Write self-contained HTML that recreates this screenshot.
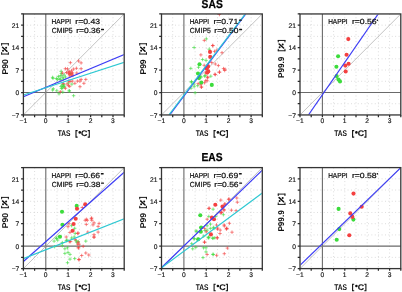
<!DOCTYPE html><html><head><meta charset="utf-8"><style>html,body{margin:0;padding:0;background:#fff;}svg{display:block;will-change:transform;}</style></head><body>
<svg xmlns="http://www.w3.org/2000/svg" width="402" height="292" viewBox="0 0 402 292" text-rendering="geometricPrecision" font-family='"Liberation Sans", sans-serif'>
<rect width="402" height="292" fill="#fff"/>
<clipPath id="cp00"><rect x="23.4" y="13.95" width="100.8" height="101"/></clipPath>
<clipPath id="cp00i"><rect x="23.9" y="14.45" width="99.8" height="100"/></clipPath>
<path d="M34.6 13.95V114.95M57 13.95V114.95M68.2 13.95V114.95M79.4 13.95V114.95M90.6 13.95V114.95M101.8 13.95V114.95M113 13.95V114.95M23.4 103.73H124.2M23.4 81.28H124.2M23.4 70.06H124.2M23.4 58.84H124.2M23.4 47.62H124.2M23.4 36.39H124.2M23.4 25.17H124.2" stroke="#c8c8c8" stroke-width="0.7" stroke-dasharray="0.9 2.5" fill="none"/>
<path d="M45.8 13.95V114.95M23.4 92.51H124.2" stroke="#6a6a6a" stroke-width="1.1" fill="none"/>
<path d="M23.4 114.95L124.2 13.95" stroke="#9a9a9a" stroke-width="0.6" fill="none"/>
<g clip-path="url(#cp00)">
<path d="M59.35 71.3h3.5M61.1 69.55v3.5M50.85 77.4h3.5M52.6 75.65v3.5M54.65 78.5h3.5M56.4 76.75v3.5M58.95 75.5h3.5M60.7 73.75v3.5M61.05 77.3h3.5M62.8 75.55v3.5M58.05 79h3.5M59.8 77.25v3.5M62.35 75.1h3.5M64.1 73.35v3.5M51.25 78.4h3.5M53 76.65v3.5M55.55 79.3h3.5M57.3 77.55v3.5M58.95 79.7h3.5M60.7 77.95v3.5M60.25 85.3h3.5M62 83.55v3.5M61.75 86.5h3.5M63.5 84.75v3.5M60.75 87.8h3.5M62.5 86.05v3.5M62.25 85h3.5M64 83.25v3.5M59.25 86.5h3.5M61 84.75v3.5M61.25 84.5h3.5M63 82.75v3.5M62.75 87h3.5M64.5 85.25v3.5M59.75 88.5h3.5M61.5 86.75v3.5M56.75 76.5h3.5M58.5 74.75v3.5M59.75 73.5h3.5M61.5 71.75v3.5M61.75 79h3.5M63.5 77.25v3.5M63.75 77h3.5M65.5 75.25v3.5M50.85 90h3.5M52.6 88.25v3.5M55.05 90.8h3.5M56.8 89.05v3.5M61.05 92.1h3.5M62.8 90.35v3.5M57.25 93.8h3.5M59 92.05v3.5M67.55 90.8h3.5M69.3 89.05v3.5M66.65 83.1h3.5M68.4 81.35v3.5M70.15 84.1h3.5M71.9 82.35v3.5M67.55 91h3.5M69.3 89.25v3.5M71.85 95.7h3.5M73.6 93.95v3.5M68.75 73.5h3.5M70.5 71.75v3.5M51.55 88.8h3.5M53.3 87.05v3.5" stroke="#3cdc3c" stroke-width="0.62" fill="none"/>
<path d="M68.65 62.7h3.5M70.4 60.95v3.5M76.85 61h3.5M78.6 59.25v3.5M79.35 62.9h3.5M81.1 61.15v3.5M63.65 68.7h3.5M65.4 66.95v3.5M65.75 68.9h3.5M67.5 67.15v3.5M71.65 69.1h3.5M73.4 67.35v3.5M74.65 68.3h3.5M76.4 66.55v3.5M79.35 68.7h3.5M81.1 66.95v3.5M67.05 71.7h3.5M68.8 69.95v3.5M69.15 73h3.5M70.9 71.25v3.5M67.75 74.5h3.5M69.5 72.75v3.5M69.95 75.1h3.5M71.7 73.35v3.5M70.75 72.8h3.5M72.5 71.05v3.5M75.05 73h3.5M76.8 71.25v3.5M60.65 73h3.5M62.4 71.25v3.5M67.75 72h3.5M69.5 70.25v3.5M69.75 70.8h3.5M71.5 69.05v3.5M68.25 76h3.5M70 74.25v3.5M70.25 74h3.5M72 72.25v3.5M66.75 73.5h3.5M68.5 71.75v3.5M71.25 75.5h3.5M73 73.75v3.5M64.75 72.5h3.5M66.5 70.75v3.5M79.35 79.4h3.5M81.1 77.65v3.5M84.05 79.4h3.5M85.8 77.65v3.5M67.15 81.1h3.5M68.9 79.35v3.5M70.55 81.1h3.5M72.3 79.35v3.5M75.65 81.1h3.5M77.4 79.35v3.5M78.25 81.1h3.5M80 79.35v3.5M73.15 83.3h3.5M74.9 81.55v3.5M82.15 83.3h3.5M83.9 81.55v3.5M67.95 86.3h3.5M69.7 84.55v3.5M78.25 86.7h3.5M80 84.95v3.5M68.35 81.4h3.5M70.1 79.65v3.5M65.35 84h3.5M67.1 82.25v3.5M63.65 88.3h3.5M65.4 86.55v3.5M58.55 91.7h3.5M60.3 89.95v3.5M61.55 83.6h3.5M63.3 81.85v3.5M66.65 85.7h3.5M68.4 83.95v3.5" stroke="#f44040" stroke-width="0.62" fill="none"/>
</g>
<path d="M23.4 96.7L124.2 54.6" stroke="#3c3cf5" stroke-width="1.2" fill="none" clip-path="url(#cp00i)"/>
<path d="M23.4 95L124.2 62.4" stroke="#2ec8d2" stroke-width="1.2" fill="none" clip-path="url(#cp00i)"/>
<rect x="23.4" y="13.95" width="100.8" height="101" fill="none" stroke="#353535" stroke-width="1.3"/>
<path d="M23.4 114.95v2.2M34.6 114.95v2.2M45.8 114.95v2.2M57 114.95v2.2M68.2 114.95v2.2M79.4 114.95v2.2M90.6 114.95v2.2M101.8 114.95v2.2M113 114.95v2.2M124.2 114.95v2.2M23.4 114.95h-2.3M23.4 103.73h-2.3M23.4 92.51h-2.3M23.4 81.28h-2.3M23.4 70.06h-2.3M23.4 58.84h-2.3M23.4 47.62h-2.3M23.4 36.39h-2.3M23.4 25.17h-2.3M23.4 13.95h-2.3" stroke="#2a2a2a" stroke-width="1.25" fill="none"/>
<text x="23.3" y="122.85" font-size="6.7" text-anchor="middle" fill="#111" stroke="#111" stroke-width="0.15">−1</text>
<text x="45.7" y="122.85" font-size="6.7" text-anchor="middle" fill="#111" stroke="#111" stroke-width="0.15">0</text>
<text x="68.1" y="122.85" font-size="6.7" text-anchor="middle" fill="#111" stroke="#111" stroke-width="0.15">1</text>
<text x="90.5" y="122.85" font-size="6.7" text-anchor="middle" fill="#111" stroke="#111" stroke-width="0.15">2</text>
<text x="112.9" y="122.85" font-size="6.7" text-anchor="middle" fill="#111" stroke="#111" stroke-width="0.15">3</text>
<text x="19.3" y="117.65" font-size="6.7" text-anchor="end" fill="#111" stroke="#111" stroke-width="0.15">−7</text>
<text x="19.3" y="95.21" font-size="6.7" text-anchor="end" fill="#111" stroke="#111" stroke-width="0.15">0</text>
<text x="19.3" y="72.76" font-size="6.7" text-anchor="end" fill="#111" stroke="#111" stroke-width="0.15">7</text>
<text x="19.3" y="50.32" font-size="6.7" text-anchor="end" fill="#111" stroke="#111" stroke-width="0.15">14</text>
<text x="19.3" y="27.87" font-size="6.7" text-anchor="end" fill="#111" stroke="#111" stroke-width="0.15">21</text>
<text x="57.63" y="136.35" font-size="8.21" font-weight="bold" textLength="12.82" lengthAdjust="spacingAndGlyphs" fill="#111">TAS</text>
<path d="M77.60 130.60H76.00V137.10H77.60M87.70 130.60H89.30V137.10H87.70" stroke="#111" stroke-width="1.1" fill="none"/>
<circle cx="79.80" cy="132.40" r="1.3" fill="#111"/>
<text x="81.14" y="136.40" font-size="8.2" font-weight="bold" textLength="6.39" lengthAdjust="spacingAndGlyphs" fill="#111" stroke="#111" stroke-width="0.15">C</text>
<text transform="translate(7.70 74.00) rotate(-90)" x="-0.57" y="0" font-size="8.43" font-weight="bold" textLength="15.22" lengthAdjust="spacingAndGlyphs" fill="#111">P90</text>
<path d="M1.20 43.75H8.80M1.65 43.30V45.65M8.35 43.30V45.65M1.20 54.05H8.80M1.65 54.50V52.15M8.35 54.50V52.15" stroke="#111" stroke-width="0.95" fill="none"/>
<path d="M2.50 47.25L7.00 51.35" stroke="#111" stroke-width="1.45" stroke-linecap="round" fill="none"/>
<circle cx="6.10" cy="47.75" r="1.0" fill="#111"/><circle cx="3.00" cy="50.65" r="1.0" fill="#111"/>
<text x="51.57" y="24.20" font-size="7.27" textLength="19.53" lengthAdjust="spacingAndGlyphs" fill="#111" stroke="#111" stroke-width="0.22">HAPPI</text>
<text x="75.33" y="24.30" font-size="7.45" textLength="24.75" lengthAdjust="spacingAndGlyphs" fill="#111" stroke="#111" stroke-width="0.22">r=0.43</text>
<text x="51.75" y="33.10" font-size="7.41" textLength="20.94" lengthAdjust="spacingAndGlyphs" fill="#111" stroke="#111" stroke-width="0.22">CMIP5</text>
<text x="76.24" y="33.10" font-size="7.45" textLength="24.23" lengthAdjust="spacingAndGlyphs" fill="#111" stroke="#111" stroke-width="0.22">r=0.36</text>
<rect x="101" y="28.85" width="3.0" height="1.3" rx="0.5" fill="#111"/>
<clipPath id="cp10"><rect x="161.5" y="13.95" width="100.8" height="101"/></clipPath>
<clipPath id="cp10i"><rect x="162" y="14.45" width="99.8" height="100"/></clipPath>
<path d="M172.7 13.95V114.95M195.1 13.95V114.95M206.3 13.95V114.95M217.5 13.95V114.95M228.7 13.95V114.95M239.9 13.95V114.95M251.1 13.95V114.95M161.5 103.73H262.3M161.5 81.28H262.3M161.5 70.06H262.3M161.5 58.84H262.3M161.5 47.62H262.3M161.5 36.39H262.3M161.5 25.17H262.3" stroke="#c8c8c8" stroke-width="0.7" stroke-dasharray="0.9 2.5" fill="none"/>
<path d="M183.9 13.95V114.95M161.5 92.51H262.3" stroke="#6a6a6a" stroke-width="1.1" fill="none"/>
<path d="M161.5 114.95L262.3 13.95" stroke="#9a9a9a" stroke-width="0.6" fill="none"/>
<g clip-path="url(#cp10)">
<path d="M204.55 38.9h3.5M206.3 37.15v3.5M192.35 47.5h3.5M194.1 45.75v3.5M207.45 49.2h3.5M209.2 47.45v3.5M200.85 59.5h3.5M202.6 57.75v3.5M204.25 60.4h3.5M206 58.65v3.5M189.05 68.4h3.5M190.8 66.65v3.5M196.75 67.3h3.5M198.5 65.55v3.5M198.85 76.6h3.5M200.6 74.85v3.5M202.95 76.1h3.5M204.7 74.35v3.5M189.55 82.2h3.5M191.3 80.45v3.5M209.05 76.2h3.5M210.8 74.45v3.5M203.35 75.7h3.5M205.1 73.95v3.5M189.75 81.5h3.5M191.5 79.75v3.5M192.35 84.1h3.5M194.1 82.35v3.5M192.35 86.7h3.5M194.1 84.95v3.5M195.95 85.7h3.5M197.7 83.95v3.5M189.25 88.2h3.5M191 86.45v3.5M193.35 92.8h3.5M195.1 91.05v3.5M199.25 77.2h3.5M201 75.45v3.5" stroke="#3cdc3c" stroke-width="0.62" fill="none"/>
<path d="M202.55 40.4h3.5M204.3 38.65v3.5M211.15 45.6h3.5M212.9 43.85v3.5M212.75 51.4h3.5M214.5 49.65v3.5M199.15 54.9h3.5M200.9 53.15v3.5M220.25 52.7h3.5M222 50.95v3.5M209.95 62.5h3.5M211.7 60.75v3.5M213.55 64h3.5M215.3 62.25v3.5M216.65 65.6h3.5M218.4 63.85v3.5M221.75 68.6h3.5M223.5 66.85v3.5M223.25 69.2h3.5M225 67.45v3.5M217.65 72.2h3.5M219.4 70.45v3.5M213.05 74.3h3.5M214.8 72.55v3.5M202.45 65.3h3.5M204.2 63.55v3.5M205.95 64.8h3.5M207.7 63.05v3.5M203.95 73h3.5M205.7 71.25v3.5M203.95 80.7h3.5M205.7 78.95v3.5M205.95 77.1h3.5M207.7 75.35v3.5M217.75 72.1h3.5M219.5 70.35v3.5M213.65 74.6h3.5M215.4 72.85v3.5M222.95 70.5h3.5M224.7 68.75v3.5M205.95 77.7h3.5M207.7 75.95v3.5M205.45 80.8h3.5M207.2 79.05v3.5M202.85 82.8h3.5M204.6 81.05v3.5M199.75 87h3.5M201.5 85.25v3.5M196.45 83.6h3.5M198.2 81.85v3.5M199.05 84.6h3.5M200.8 82.85v3.5M199.55 87.2h3.5M201.3 85.45v3.5M217.65 14.5h3.5M219.4 12.75v3.5M215.05 50.2h3.5M216.8 48.45v3.5M210.95 45.5h3.5M212.7 43.75v3.5" stroke="#f44040" stroke-width="0.62" fill="none"/>
<circle cx="199.5" cy="64.2" r="2.05" fill="#3cdc3c"/>
<circle cx="198" cy="73.5" r="2.05" fill="#3cdc3c"/>
<circle cx="199" cy="78.1" r="2.05" fill="#3cdc3c"/>
<circle cx="201.3" cy="82.5" r="2.05" fill="#3cdc3c"/>
<circle cx="211.8" cy="84.9" r="2.05" fill="#3cdc3c"/>
<circle cx="210" cy="51.9" r="2.05" fill="#f44040"/>
<circle cx="210.2" cy="56.9" r="2.05" fill="#f44040"/>
<circle cx="208.1" cy="66.6" r="2.05" fill="#f44040"/>
<circle cx="206.7" cy="68.4" r="2.05" fill="#f44040"/>
<circle cx="208.3" cy="71.4" r="2.05" fill="#f44040"/>
<circle cx="207.2" cy="72.6" r="2.05" fill="#f44040"/>
</g>
<path d="M169.6 115L245.8 14" stroke="#3c3cf5" stroke-width="1.2" fill="none" clip-path="url(#cp10i)"/>
<path d="M168.8 115L245.2 14" stroke="#2ec8d2" stroke-width="1.2" fill="none" clip-path="url(#cp10i)"/>
<rect x="161.5" y="13.95" width="100.8" height="101" fill="none" stroke="#353535" stroke-width="1.3"/>
<path d="M161.5 114.95v2.2M172.7 114.95v2.2M183.9 114.95v2.2M195.1 114.95v2.2M206.3 114.95v2.2M217.5 114.95v2.2M228.7 114.95v2.2M239.9 114.95v2.2M251.1 114.95v2.2M262.3 114.95v2.2M161.5 114.95h-2.3M161.5 103.73h-2.3M161.5 92.51h-2.3M161.5 81.28h-2.3M161.5 70.06h-2.3M161.5 58.84h-2.3M161.5 47.62h-2.3M161.5 36.39h-2.3M161.5 25.17h-2.3M161.5 13.95h-2.3" stroke="#2a2a2a" stroke-width="1.25" fill="none"/>
<text x="161.4" y="122.85" font-size="6.7" text-anchor="middle" fill="#111" stroke="#111" stroke-width="0.15">−1</text>
<text x="183.8" y="122.85" font-size="6.7" text-anchor="middle" fill="#111" stroke="#111" stroke-width="0.15">0</text>
<text x="206.2" y="122.85" font-size="6.7" text-anchor="middle" fill="#111" stroke="#111" stroke-width="0.15">1</text>
<text x="228.6" y="122.85" font-size="6.7" text-anchor="middle" fill="#111" stroke="#111" stroke-width="0.15">2</text>
<text x="251" y="122.85" font-size="6.7" text-anchor="middle" fill="#111" stroke="#111" stroke-width="0.15">3</text>
<text x="157.4" y="117.65" font-size="6.7" text-anchor="end" fill="#111" stroke="#111" stroke-width="0.15">−7</text>
<text x="157.4" y="95.21" font-size="6.7" text-anchor="end" fill="#111" stroke="#111" stroke-width="0.15">0</text>
<text x="157.4" y="72.76" font-size="6.7" text-anchor="end" fill="#111" stroke="#111" stroke-width="0.15">7</text>
<text x="157.4" y="50.32" font-size="6.7" text-anchor="end" fill="#111" stroke="#111" stroke-width="0.15">14</text>
<text x="157.4" y="27.87" font-size="6.7" text-anchor="end" fill="#111" stroke="#111" stroke-width="0.15">21</text>
<text x="195.73" y="136.35" font-size="8.21" font-weight="bold" textLength="12.82" lengthAdjust="spacingAndGlyphs" fill="#111">TAS</text>
<path d="M215.70 130.60H214.10V137.10H215.70M225.80 130.60H227.40V137.10H225.80" stroke="#111" stroke-width="1.1" fill="none"/>
<circle cx="217.90" cy="132.40" r="1.3" fill="#111"/>
<text x="219.24" y="136.40" font-size="8.2" font-weight="bold" textLength="6.39" lengthAdjust="spacingAndGlyphs" fill="#111" stroke="#111" stroke-width="0.15">C</text>
<text transform="translate(145.80 74.00) rotate(-90)" x="-0.57" y="0" font-size="8.43" font-weight="bold" textLength="15.19" lengthAdjust="spacingAndGlyphs" fill="#111">P99</text>
<path d="M139.30 43.75H146.90M139.75 43.30V45.65M146.45 43.30V45.65M139.30 54.05H146.90M139.75 54.50V52.15M146.45 54.50V52.15" stroke="#111" stroke-width="0.95" fill="none"/>
<path d="M140.60 47.25L145.10 51.35" stroke="#111" stroke-width="1.45" stroke-linecap="round" fill="none"/>
<circle cx="144.20" cy="47.75" r="1.0" fill="#111"/><circle cx="141.10" cy="50.65" r="1.0" fill="#111"/>
<text x="189.67" y="24.20" font-size="7.27" textLength="19.53" lengthAdjust="spacingAndGlyphs" fill="#111" stroke="#111" stroke-width="0.22">HAPPI</text>
<text x="213.42" y="24.30" font-size="7.45" textLength="24.80" lengthAdjust="spacingAndGlyphs" fill="#111" stroke="#111" stroke-width="0.22">r=0.71</text>
<rect x="238.9" y="19.45" width="2.9" height="1.3" rx="0.5" fill="#111"/>
<text x="189.85" y="33.10" font-size="7.41" textLength="20.94" lengthAdjust="spacingAndGlyphs" fill="#111" stroke="#111" stroke-width="0.22">CMIP5</text>
<text x="214.34" y="33.10" font-size="7.45" textLength="24.19" lengthAdjust="spacingAndGlyphs" fill="#111" stroke="#111" stroke-width="0.22">r=0.50</text>
<rect x="239.1" y="28.85" width="3.0" height="1.3" rx="0.5" fill="#111"/>
<clipPath id="cp20"><rect x="300" y="13.95" width="100.8" height="101"/></clipPath>
<clipPath id="cp20i"><rect x="300.5" y="14.45" width="99.8" height="100"/></clipPath>
<path d="M311.2 13.95V114.95M333.6 13.95V114.95M344.8 13.95V114.95M356 13.95V114.95M367.2 13.95V114.95M378.4 13.95V114.95M389.6 13.95V114.95M300 103.73H400.8M300 81.28H400.8M300 70.06H400.8M300 58.84H400.8M300 47.62H400.8M300 36.39H400.8M300 25.17H400.8" stroke="#c8c8c8" stroke-width="0.7" stroke-dasharray="0.9 2.5" fill="none"/>
<path d="M322.4 13.95V114.95M300 92.51H400.8" stroke="#6a6a6a" stroke-width="1.1" fill="none"/>
<path d="M300 114.95L400.8 13.95" stroke="#9a9a9a" stroke-width="0.6" fill="none"/>
<g clip-path="url(#cp20)">
<circle cx="338.1" cy="56.2" r="2.05" fill="#3cdc3c"/>
<circle cx="336.4" cy="66.7" r="2.05" fill="#3cdc3c"/>
<circle cx="336.6" cy="76.1" r="2.05" fill="#3cdc3c"/>
<circle cx="338.5" cy="79.5" r="2.05" fill="#3cdc3c"/>
<circle cx="340" cy="81.4" r="2.05" fill="#3cdc3c"/>
<circle cx="348.3" cy="39.1" r="2.05" fill="#f44040"/>
<circle cx="346.6" cy="54.7" r="2.05" fill="#f44040"/>
<circle cx="348.6" cy="63.7" r="2.05" fill="#f44040"/>
<circle cx="345.3" cy="65.6" r="2.05" fill="#f44040"/>
<circle cx="345.7" cy="71.5" r="2.05" fill="#f44040"/>
</g>
<path d="M308.4 115L378.2 14" stroke="#3c3cf5" stroke-width="1.2" fill="none" clip-path="url(#cp20i)"/>
<rect x="300" y="13.95" width="100.8" height="101" fill="none" stroke="#353535" stroke-width="1.3"/>
<path d="M300 114.95v2.2M311.2 114.95v2.2M322.4 114.95v2.2M333.6 114.95v2.2M344.8 114.95v2.2M356 114.95v2.2M367.2 114.95v2.2M378.4 114.95v2.2M389.6 114.95v2.2M400.8 114.95v2.2M300 114.95h-2.3M300 103.73h-2.3M300 92.51h-2.3M300 81.28h-2.3M300 70.06h-2.3M300 58.84h-2.3M300 47.62h-2.3M300 36.39h-2.3M300 25.17h-2.3M300 13.95h-2.3" stroke="#2a2a2a" stroke-width="1.25" fill="none"/>
<text x="299.9" y="122.85" font-size="6.7" text-anchor="middle" fill="#111" stroke="#111" stroke-width="0.15">−1</text>
<text x="322.3" y="122.85" font-size="6.7" text-anchor="middle" fill="#111" stroke="#111" stroke-width="0.15">0</text>
<text x="344.7" y="122.85" font-size="6.7" text-anchor="middle" fill="#111" stroke="#111" stroke-width="0.15">1</text>
<text x="367.1" y="122.85" font-size="6.7" text-anchor="middle" fill="#111" stroke="#111" stroke-width="0.15">2</text>
<text x="389.5" y="122.85" font-size="6.7" text-anchor="middle" fill="#111" stroke="#111" stroke-width="0.15">3</text>
<text x="295.9" y="117.65" font-size="6.7" text-anchor="end" fill="#111" stroke="#111" stroke-width="0.15">−7</text>
<text x="295.9" y="95.21" font-size="6.7" text-anchor="end" fill="#111" stroke="#111" stroke-width="0.15">0</text>
<text x="295.9" y="72.76" font-size="6.7" text-anchor="end" fill="#111" stroke="#111" stroke-width="0.15">7</text>
<text x="295.9" y="50.32" font-size="6.7" text-anchor="end" fill="#111" stroke="#111" stroke-width="0.15">14</text>
<text x="295.9" y="27.87" font-size="6.7" text-anchor="end" fill="#111" stroke="#111" stroke-width="0.15">21</text>
<text x="334.23" y="136.35" font-size="8.21" font-weight="bold" textLength="12.82" lengthAdjust="spacingAndGlyphs" fill="#111">TAS</text>
<path d="M354.20 130.60H352.60V137.10H354.20M364.30 130.60H365.90V137.10H364.30" stroke="#111" stroke-width="1.1" fill="none"/>
<circle cx="356.40" cy="132.40" r="1.3" fill="#111"/>
<text x="357.74" y="136.40" font-size="8.2" font-weight="bold" textLength="6.39" lengthAdjust="spacingAndGlyphs" fill="#111" stroke="#111" stroke-width="0.15">C</text>
<text transform="translate(284.30 77.40) rotate(-90)" x="-0.54" y="0" font-size="8.43" font-weight="bold" textLength="21.25" lengthAdjust="spacingAndGlyphs" fill="#111">P99.9</text>
<path d="M277.80 40.45H285.40M278.25 40.00V42.35M284.95 40.00V42.35M277.80 50.75H285.40M278.25 51.20V48.85M284.95 51.20V48.85" stroke="#111" stroke-width="0.95" fill="none"/>
<path d="M279.10 43.95L283.60 48.05" stroke="#111" stroke-width="1.45" stroke-linecap="round" fill="none"/>
<circle cx="282.70" cy="44.45" r="1.0" fill="#111"/><circle cx="279.60" cy="47.35" r="1.0" fill="#111"/>
<text x="328.17" y="24.20" font-size="7.27" textLength="19.53" lengthAdjust="spacingAndGlyphs" fill="#111" stroke="#111" stroke-width="0.22">HAPPI</text>
<text x="351.93" y="24.30" font-size="7.45" textLength="24.75" lengthAdjust="spacingAndGlyphs" fill="#111" stroke="#111" stroke-width="0.22">r=0.56</text>
<circle cx="377.4" cy="20.2" r="0.8" fill="#111"/>
<clipPath id="cp01"><rect x="23.4" y="167.6" width="100.8" height="101"/></clipPath>
<clipPath id="cp01i"><rect x="23.9" y="168.1" width="99.8" height="100"/></clipPath>
<path d="M34.6 167.6V268.6M57 167.6V268.6M68.2 167.6V268.6M79.4 167.6V268.6M90.6 167.6V268.6M101.8 167.6V268.6M113 167.6V268.6M23.4 257.38H124.2M23.4 234.93H124.2M23.4 223.71H124.2M23.4 212.49H124.2M23.4 201.27H124.2M23.4 190.04H124.2M23.4 178.82H124.2" stroke="#c8c8c8" stroke-width="0.7" stroke-dasharray="0.9 2.5" fill="none"/>
<path d="M45.8 167.6V268.6M23.4 246.16H124.2" stroke="#6a6a6a" stroke-width="1.1" fill="none"/>
<path d="M23.4 268.6L124.2 167.6" stroke="#9a9a9a" stroke-width="0.6" fill="none"/>
<g clip-path="url(#cp01)">
<path d="M69.85 225.7h3.5M71.6 223.95v3.5M72.95 228.3h3.5M74.7 226.55v3.5M73.45 233.4h3.5M75.2 231.65v3.5M54.45 238h3.5M56.2 236.25v3.5M52.35 241.1h3.5M54.1 239.35v3.5M55.95 240.1h3.5M57.7 238.35v3.5M64.65 240.6h3.5M66.4 238.85v3.5M69.85 238h3.5M71.6 236.25v3.5M72.45 237h3.5M74.2 235.25v3.5M60.55 245.7h3.5M62.3 243.95v3.5M76.55 241.6h3.5M78.3 239.85v3.5M60.55 242.6h3.5M62.3 240.85v3.5M65.25 240.1h3.5M67 238.35v3.5M74.95 242.1h3.5M76.7 240.35v3.5M63.15 248.8h3.5M64.9 247.05v3.5M65.75 247.8h3.5M67.5 246.05v3.5M52.85 246.7h3.5M54.6 244.95v3.5M63.15 253.4h3.5M64.9 251.65v3.5M66.25 252.4h3.5M68 250.65v3.5M68.25 254.4h3.5M70 252.65v3.5M68.25 259.1h3.5M70 257.35v3.5M72.95 258.6h3.5M74.7 256.85v3.5M65.75 262.7h3.5M67.5 260.95v3.5M84.05 241.1h3.5M85.8 239.35v3.5M74.25 240.6h3.5M76 238.85v3.5M54.85 238.5h3.5M56.6 236.75v3.5M57.35 236.4h3.5M59.1 234.65v3.5" stroke="#3cdc3c" stroke-width="0.62" fill="none"/>
<path d="M80.55 207.5h3.5M82.3 205.75v3.5M89.85 218h3.5M91.6 216.25v3.5M84.65 219.3h3.5M86.4 217.55v3.5M67.25 223.8h3.5M69 222.05v3.5M66.25 226.7h3.5M68 224.95v3.5M68.25 232.4h3.5M70 230.65v3.5M75.95 233.4h3.5M77.7 231.65v3.5M64.45 237h3.5M66.2 235.25v3.5M67.75 241.6h3.5M69.5 239.85v3.5M73.45 239.6h3.5M75.2 237.85v3.5M75.95 244.2h3.5M77.7 242.45v3.5M83.45 220.3h3.5M85.2 218.55v3.5M85.55 220.3h3.5M87.3 218.55v3.5M89.65 218.7h3.5M91.4 216.95v3.5M90.15 220.3h3.5M91.9 218.55v3.5M92.25 222.8h3.5M94 221.05v3.5M84.55 224.4h3.5M86.3 222.65v3.5M91.25 224.9h3.5M93 223.15v3.5M97.35 223.4h3.5M99.1 221.65v3.5M96.35 226.4h3.5M98.1 224.65v3.5M86.05 232.1h3.5M87.8 230.35v3.5M96.35 232.1h3.5M98.1 230.35v3.5M92.25 234.7h3.5M94 232.95v3.5M92.25 237.2h3.5M94 235.45v3.5M76.35 233.1h3.5M78.1 231.35v3.5M68.85 241.6h3.5M70.6 239.85v3.5M76.55 247.8h3.5M78.3 246.05v3.5M77.05 259.6h3.5M78.8 257.85v3.5M76.35 242.2h3.5M78.1 240.45v3.5M77.35 244.2h3.5M79.1 242.45v3.5M81.45 246.3h3.5M83.2 244.55v3.5M76.85 247.8h3.5M78.6 246.05v3.5M84.05 253h3.5M85.8 251.25v3.5M79.95 255.5h3.5M81.7 253.75v3.5M87.05 255h3.5M88.8 253.25v3.5M77.35 259.6h3.5M79.1 257.85v3.5M92.25 237h3.5M94 235.25v3.5" stroke="#f44040" stroke-width="0.62" fill="none"/>
<circle cx="76.7" cy="205.9" r="2.05" fill="#3cdc3c"/>
<circle cx="62" cy="211.8" r="2.05" fill="#3cdc3c"/>
<circle cx="62.4" cy="224.8" r="2.05" fill="#3cdc3c"/>
<circle cx="60" cy="236.8" r="2.05" fill="#3cdc3c"/>
<circle cx="85.2" cy="204.4" r="2.05" fill="#f44040"/>
<circle cx="77" cy="208.7" r="2.05" fill="#f44040"/>
<circle cx="75.7" cy="218.7" r="2.05" fill="#f44040"/>
<circle cx="73.6" cy="224" r="2.05" fill="#f44040"/>
<circle cx="72.6" cy="230.8" r="2.05" fill="#f44040"/>
</g>
<path d="M23.4 261.5L124.2 172.2" stroke="#3c3cf5" stroke-width="1.2" fill="none" clip-path="url(#cp01i)"/>
<path d="M23.4 258.6L124.2 218.9" stroke="#2ec8d2" stroke-width="1.2" fill="none" clip-path="url(#cp01i)"/>
<rect x="23.4" y="167.6" width="100.8" height="101" fill="none" stroke="#353535" stroke-width="1.3"/>
<path d="M23.4 268.6v2.2M34.6 268.6v2.2M45.8 268.6v2.2M57 268.6v2.2M68.2 268.6v2.2M79.4 268.6v2.2M90.6 268.6v2.2M101.8 268.6v2.2M113 268.6v2.2M124.2 268.6v2.2M23.4 268.6h-2.3M23.4 257.38h-2.3M23.4 246.16h-2.3M23.4 234.93h-2.3M23.4 223.71h-2.3M23.4 212.49h-2.3M23.4 201.27h-2.3M23.4 190.04h-2.3M23.4 178.82h-2.3M23.4 167.6h-2.3" stroke="#2a2a2a" stroke-width="1.25" fill="none"/>
<text x="23.3" y="276.5" font-size="6.7" text-anchor="middle" fill="#111" stroke="#111" stroke-width="0.15">−1</text>
<text x="45.7" y="276.5" font-size="6.7" text-anchor="middle" fill="#111" stroke="#111" stroke-width="0.15">0</text>
<text x="68.1" y="276.5" font-size="6.7" text-anchor="middle" fill="#111" stroke="#111" stroke-width="0.15">1</text>
<text x="90.5" y="276.5" font-size="6.7" text-anchor="middle" fill="#111" stroke="#111" stroke-width="0.15">2</text>
<text x="112.9" y="276.5" font-size="6.7" text-anchor="middle" fill="#111" stroke="#111" stroke-width="0.15">3</text>
<text x="19.3" y="271.3" font-size="6.7" text-anchor="end" fill="#111" stroke="#111" stroke-width="0.15">−7</text>
<text x="19.3" y="248.86" font-size="6.7" text-anchor="end" fill="#111" stroke="#111" stroke-width="0.15">0</text>
<text x="19.3" y="226.41" font-size="6.7" text-anchor="end" fill="#111" stroke="#111" stroke-width="0.15">7</text>
<text x="19.3" y="203.97" font-size="6.7" text-anchor="end" fill="#111" stroke="#111" stroke-width="0.15">14</text>
<text x="19.3" y="181.52" font-size="6.7" text-anchor="end" fill="#111" stroke="#111" stroke-width="0.15">21</text>
<text x="57.63" y="290.00" font-size="8.21" font-weight="bold" textLength="12.82" lengthAdjust="spacingAndGlyphs" fill="#111">TAS</text>
<path d="M77.60 284.25H76.00V290.75H77.60M87.70 284.25H89.30V290.75H87.70" stroke="#111" stroke-width="1.1" fill="none"/>
<circle cx="79.80" cy="286.05" r="1.3" fill="#111"/>
<text x="81.14" y="290.05" font-size="8.2" font-weight="bold" textLength="6.39" lengthAdjust="spacingAndGlyphs" fill="#111" stroke="#111" stroke-width="0.15">C</text>
<text transform="translate(7.70 227.65) rotate(-90)" x="-0.57" y="0" font-size="8.43" font-weight="bold" textLength="15.22" lengthAdjust="spacingAndGlyphs" fill="#111">P90</text>
<path d="M1.20 197.40H8.80M1.65 196.95V199.30M8.35 196.95V199.30M1.20 207.70H8.80M1.65 208.15V205.80M8.35 208.15V205.80" stroke="#111" stroke-width="0.95" fill="none"/>
<path d="M2.50 200.90L7.00 205.00" stroke="#111" stroke-width="1.45" stroke-linecap="round" fill="none"/>
<circle cx="6.10" cy="201.40" r="1.0" fill="#111"/><circle cx="3.00" cy="204.30" r="1.0" fill="#111"/>
<text x="51.57" y="177.85" font-size="7.27" textLength="19.53" lengthAdjust="spacingAndGlyphs" fill="#111" stroke="#111" stroke-width="0.22">HAPPI</text>
<text x="75.33" y="177.95" font-size="7.45" textLength="24.75" lengthAdjust="spacingAndGlyphs" fill="#111" stroke="#111" stroke-width="0.22">r=0.66</text>
<rect x="100.8" y="173.1" width="2.9" height="1.3" rx="0.5" fill="#111"/>
<text x="51.75" y="186.75" font-size="7.41" textLength="20.94" lengthAdjust="spacingAndGlyphs" fill="#111" stroke="#111" stroke-width="0.22">CMIP5</text>
<text x="76.24" y="186.75" font-size="7.45" textLength="24.23" lengthAdjust="spacingAndGlyphs" fill="#111" stroke="#111" stroke-width="0.22">r=0.38</text>
<rect x="101" y="182.5" width="3.0" height="1.3" rx="0.5" fill="#111"/>
<clipPath id="cp11"><rect x="161.5" y="167.6" width="100.8" height="101"/></clipPath>
<clipPath id="cp11i"><rect x="162" y="168.1" width="99.8" height="100"/></clipPath>
<path d="M172.7 167.6V268.6M195.1 167.6V268.6M206.3 167.6V268.6M217.5 167.6V268.6M228.7 167.6V268.6M239.9 167.6V268.6M251.1 167.6V268.6M161.5 257.38H262.3M161.5 234.93H262.3M161.5 223.71H262.3M161.5 212.49H262.3M161.5 201.27H262.3M161.5 190.04H262.3M161.5 178.82H262.3" stroke="#c8c8c8" stroke-width="0.7" stroke-dasharray="0.9 2.5" fill="none"/>
<path d="M183.9 167.6V268.6M161.5 246.16H262.3" stroke="#6a6a6a" stroke-width="1.1" fill="none"/>
<path d="M161.5 268.6L262.3 167.6" stroke="#9a9a9a" stroke-width="0.6" fill="none"/>
<g clip-path="url(#cp11)">
<path d="M211.35 209.2h3.5M213.1 207.45v3.5M207.05 216.4h3.5M208.8 214.65v3.5M213.95 216.4h3.5M215.7 214.65v3.5M221.65 214.7h3.5M223.4 212.95v3.5M195.05 231.3h3.5M196.8 229.55v3.5M205.35 225.8h3.5M207.1 224.05v3.5M208.75 224.1h3.5M210.5 222.35v3.5M205.35 230.1h3.5M207.1 228.35v3.5M212.25 228.4h3.5M214 226.65v3.5M201.95 236.1h3.5M203.7 234.35v3.5M207.05 237.8h3.5M208.8 236.05v3.5M213.05 237.8h3.5M214.8 236.05v3.5M192.55 238.7h3.5M194.3 236.95v3.5M194.15 231h3.5M195.9 229.25v3.5M192.15 238.7h3.5M193.9 236.95v3.5M196.25 239.2h3.5M198 237.45v3.5M189.95 243.7h3.5M191.7 241.95v3.5M194.05 247.3h3.5M195.8 245.55v3.5M190.95 248.8h3.5M192.7 247.05v3.5M201.75 247.8h3.5M203.5 246.05v3.5M204.25 247.8h3.5M206 246.05v3.5M204.25 251.9h3.5M206 250.15v3.5M211.45 254.5h3.5M213.2 252.75v3.5M201.25 257.6h3.5M203 255.85v3.5M206.85 237h3.5M208.6 235.25v3.5M210.95 238.1h3.5M212.7 236.35v3.5M211.25 238.3h3.5M213 236.55v3.5M211.25 254.3h3.5M213 252.55v3.5M208.55 228.4h3.5M210.3 226.65v3.5M211.65 227.4h3.5M213.4 225.65v3.5M203.35 230.5h3.5M205.1 228.75v3.5M206.45 237.7h3.5M208.2 235.95v3.5" stroke="#3cdc3c" stroke-width="0.62" fill="none"/>
<path d="M219.05 200.1h3.5M220.8 198.35v3.5M207.05 208.4h3.5M208.8 206.65v3.5M222.45 210.1h3.5M224.2 208.35v3.5M219.05 213h3.5M220.8 211.25v3.5M214.75 225h3.5M216.5 223.25v3.5M222.45 225h3.5M224.2 223.25v3.5M225.05 228.4h3.5M226.8 226.65v3.5M215.65 229.2h3.5M217.4 227.45v3.5M202.85 228.4h3.5M204.6 226.65v3.5M204.55 231.8h3.5M206.3 230.05v3.5M218.25 233.5h3.5M220 231.75v3.5M215.65 237.8h3.5M217.4 236.05v3.5M202.85 242.1h3.5M204.6 240.35v3.5M227.65 223.3h3.5M229.4 221.55v3.5M227.35 199.1h3.5M229.1 197.35v3.5M235.05 198h3.5M236.8 196.25v3.5M235.55 202.2h3.5M237.3 200.45v3.5M223.15 204.2h3.5M224.9 202.45v3.5M221.95 209.6h3.5M223.7 207.85v3.5M219.45 212.4h3.5M221.2 210.65v3.5M226.85 199.3h3.5M228.6 197.55v3.5M229.65 210.2h3.5M231.4 208.45v3.5M234.35 210.7h3.5M236.1 208.95v3.5M223.05 204h3.5M224.8 202.25v3.5M219.95 212.2h3.5M221.7 210.45v3.5M224.95 228.4h3.5M226.7 226.65v3.5M218.45 230.1h3.5M220.2 228.35v3.5M224.65 229.1h3.5M226.4 227.35v3.5M230.25 232.2h3.5M232 230.45v3.5M215.35 237.8h3.5M217.1 236.05v3.5M225.65 248.1h3.5M227.4 246.35v3.5M222.55 253.7h3.5M224.3 251.95v3.5M214.85 255.3h3.5M216.6 253.55v3.5M215.95 228.1h3.5M217.7 226.35v3.5M222.55 226h3.5M224.3 224.25v3.5M202.75 242.2h3.5M204.5 240.45v3.5M205.35 254.5h3.5M207.1 252.75v3.5M207.55 208.3h3.5M209.3 206.55v3.5M205.45 219.2h3.5M207.2 217.45v3.5" stroke="#f44040" stroke-width="0.62" fill="none"/>
<circle cx="200.3" cy="215.2" r="2.05" fill="#3cdc3c"/>
<circle cx="201.1" cy="227.5" r="2.05" fill="#3cdc3c"/>
<circle cx="200.8" cy="231.8" r="2.05" fill="#3cdc3c"/>
<circle cx="198.2" cy="239.2" r="2.05" fill="#3cdc3c"/>
<circle cx="215.3" cy="204.8" r="2.05" fill="#f44040"/>
<circle cx="222.5" cy="206.6" r="2.05" fill="#f44040"/>
<circle cx="211.9" cy="217.6" r="2.05" fill="#f44040"/>
<circle cx="214" cy="219.3" r="2.05" fill="#f44040"/>
<circle cx="210.9" cy="234.4" r="2.05" fill="#f44040"/>
</g>
<path d="M161.5 267.6L262.3 170.1" stroke="#3c3cf5" stroke-width="1.2" fill="none" clip-path="url(#cp11i)"/>
<path d="M161.5 267.8L262.3 193" stroke="#2ec8d2" stroke-width="1.2" fill="none" clip-path="url(#cp11i)"/>
<rect x="161.5" y="167.6" width="100.8" height="101" fill="none" stroke="#353535" stroke-width="1.3"/>
<path d="M161.5 268.6v2.2M172.7 268.6v2.2M183.9 268.6v2.2M195.1 268.6v2.2M206.3 268.6v2.2M217.5 268.6v2.2M228.7 268.6v2.2M239.9 268.6v2.2M251.1 268.6v2.2M262.3 268.6v2.2M161.5 268.6h-2.3M161.5 257.38h-2.3M161.5 246.16h-2.3M161.5 234.93h-2.3M161.5 223.71h-2.3M161.5 212.49h-2.3M161.5 201.27h-2.3M161.5 190.04h-2.3M161.5 178.82h-2.3M161.5 167.6h-2.3" stroke="#2a2a2a" stroke-width="1.25" fill="none"/>
<text x="161.4" y="276.5" font-size="6.7" text-anchor="middle" fill="#111" stroke="#111" stroke-width="0.15">−1</text>
<text x="183.8" y="276.5" font-size="6.7" text-anchor="middle" fill="#111" stroke="#111" stroke-width="0.15">0</text>
<text x="206.2" y="276.5" font-size="6.7" text-anchor="middle" fill="#111" stroke="#111" stroke-width="0.15">1</text>
<text x="228.6" y="276.5" font-size="6.7" text-anchor="middle" fill="#111" stroke="#111" stroke-width="0.15">2</text>
<text x="251" y="276.5" font-size="6.7" text-anchor="middle" fill="#111" stroke="#111" stroke-width="0.15">3</text>
<text x="157.4" y="271.3" font-size="6.7" text-anchor="end" fill="#111" stroke="#111" stroke-width="0.15">−7</text>
<text x="157.4" y="248.86" font-size="6.7" text-anchor="end" fill="#111" stroke="#111" stroke-width="0.15">0</text>
<text x="157.4" y="226.41" font-size="6.7" text-anchor="end" fill="#111" stroke="#111" stroke-width="0.15">7</text>
<text x="157.4" y="203.97" font-size="6.7" text-anchor="end" fill="#111" stroke="#111" stroke-width="0.15">14</text>
<text x="157.4" y="181.52" font-size="6.7" text-anchor="end" fill="#111" stroke="#111" stroke-width="0.15">21</text>
<text x="195.73" y="290.00" font-size="8.21" font-weight="bold" textLength="12.82" lengthAdjust="spacingAndGlyphs" fill="#111">TAS</text>
<path d="M215.70 284.25H214.10V290.75H215.70M225.80 284.25H227.40V290.75H225.80" stroke="#111" stroke-width="1.1" fill="none"/>
<circle cx="217.90" cy="286.05" r="1.3" fill="#111"/>
<text x="219.24" y="290.05" font-size="8.2" font-weight="bold" textLength="6.39" lengthAdjust="spacingAndGlyphs" fill="#111" stroke="#111" stroke-width="0.15">C</text>
<text transform="translate(145.80 227.65) rotate(-90)" x="-0.57" y="0" font-size="8.43" font-weight="bold" textLength="15.19" lengthAdjust="spacingAndGlyphs" fill="#111">P99</text>
<path d="M139.30 197.40H146.90M139.75 196.95V199.30M146.45 196.95V199.30M139.30 207.70H146.90M139.75 208.15V205.80M146.45 208.15V205.80" stroke="#111" stroke-width="0.95" fill="none"/>
<path d="M140.60 200.90L145.10 205.00" stroke="#111" stroke-width="1.45" stroke-linecap="round" fill="none"/>
<circle cx="144.20" cy="201.40" r="1.0" fill="#111"/><circle cx="141.10" cy="204.30" r="1.0" fill="#111"/>
<text x="189.67" y="177.85" font-size="7.27" textLength="19.53" lengthAdjust="spacingAndGlyphs" fill="#111" stroke="#111" stroke-width="0.22">HAPPI</text>
<text x="213.43" y="177.95" font-size="7.45" textLength="24.78" lengthAdjust="spacingAndGlyphs" fill="#111" stroke="#111" stroke-width="0.22">r=0.69</text>
<rect x="238.9" y="173.1" width="2.9" height="1.3" rx="0.5" fill="#111"/>
<text x="189.85" y="186.75" font-size="7.41" textLength="20.94" lengthAdjust="spacingAndGlyphs" fill="#111" stroke="#111" stroke-width="0.22">CMIP5</text>
<text x="214.34" y="186.75" font-size="7.45" textLength="24.23" lengthAdjust="spacingAndGlyphs" fill="#111" stroke="#111" stroke-width="0.22">r=0.56</text>
<rect x="239.1" y="182.5" width="3.0" height="1.3" rx="0.5" fill="#111"/>
<clipPath id="cp21"><rect x="300" y="167.6" width="100.8" height="101"/></clipPath>
<clipPath id="cp21i"><rect x="300.5" y="168.1" width="99.8" height="100"/></clipPath>
<path d="M311.2 167.6V268.6M333.6 167.6V268.6M344.8 167.6V268.6M356 167.6V268.6M367.2 167.6V268.6M378.4 167.6V268.6M389.6 167.6V268.6M300 257.38H400.8M300 234.93H400.8M300 223.71H400.8M300 212.49H400.8M300 201.27H400.8M300 190.04H400.8M300 178.82H400.8" stroke="#c8c8c8" stroke-width="0.7" stroke-dasharray="0.9 2.5" fill="none"/>
<path d="M322.4 167.6V268.6M300 246.16H400.8" stroke="#6a6a6a" stroke-width="1.1" fill="none"/>
<path d="M300 268.6L400.8 167.6" stroke="#9a9a9a" stroke-width="0.6" fill="none"/>
<g clip-path="url(#cp21)">
<circle cx="338.6" cy="208.9" r="2.05" fill="#3cdc3c"/>
<circle cx="353.4" cy="219.6" r="2.05" fill="#3cdc3c"/>
<circle cx="339.3" cy="229.1" r="2.05" fill="#3cdc3c"/>
<circle cx="336.7" cy="239.8" r="2.05" fill="#3cdc3c"/>
<circle cx="353.5" cy="193.6" r="2.05" fill="#f44040"/>
<circle cx="361.7" cy="206.7" r="2.05" fill="#f44040"/>
<circle cx="350.3" cy="213.4" r="2.05" fill="#f44040"/>
<circle cx="352.4" cy="216.9" r="2.05" fill="#f44040"/>
<circle cx="349.3" cy="235.2" r="2.05" fill="#f44040"/>
</g>
<path d="M300 265.3L400.8 167.7" stroke="#3c3cf5" stroke-width="1.2" fill="none" clip-path="url(#cp21i)"/>
<rect x="300" y="167.6" width="100.8" height="101" fill="none" stroke="#353535" stroke-width="1.3"/>
<path d="M300 268.6v2.2M311.2 268.6v2.2M322.4 268.6v2.2M333.6 268.6v2.2M344.8 268.6v2.2M356 268.6v2.2M367.2 268.6v2.2M378.4 268.6v2.2M389.6 268.6v2.2M400.8 268.6v2.2M300 268.6h-2.3M300 257.38h-2.3M300 246.16h-2.3M300 234.93h-2.3M300 223.71h-2.3M300 212.49h-2.3M300 201.27h-2.3M300 190.04h-2.3M300 178.82h-2.3M300 167.6h-2.3" stroke="#2a2a2a" stroke-width="1.25" fill="none"/>
<text x="299.9" y="276.5" font-size="6.7" text-anchor="middle" fill="#111" stroke="#111" stroke-width="0.15">−1</text>
<text x="322.3" y="276.5" font-size="6.7" text-anchor="middle" fill="#111" stroke="#111" stroke-width="0.15">0</text>
<text x="344.7" y="276.5" font-size="6.7" text-anchor="middle" fill="#111" stroke="#111" stroke-width="0.15">1</text>
<text x="367.1" y="276.5" font-size="6.7" text-anchor="middle" fill="#111" stroke="#111" stroke-width="0.15">2</text>
<text x="389.5" y="276.5" font-size="6.7" text-anchor="middle" fill="#111" stroke="#111" stroke-width="0.15">3</text>
<text x="295.9" y="271.3" font-size="6.7" text-anchor="end" fill="#111" stroke="#111" stroke-width="0.15">−7</text>
<text x="295.9" y="248.86" font-size="6.7" text-anchor="end" fill="#111" stroke="#111" stroke-width="0.15">0</text>
<text x="295.9" y="226.41" font-size="6.7" text-anchor="end" fill="#111" stroke="#111" stroke-width="0.15">7</text>
<text x="295.9" y="203.97" font-size="6.7" text-anchor="end" fill="#111" stroke="#111" stroke-width="0.15">14</text>
<text x="295.9" y="181.52" font-size="6.7" text-anchor="end" fill="#111" stroke="#111" stroke-width="0.15">21</text>
<text x="334.23" y="290.00" font-size="8.21" font-weight="bold" textLength="12.82" lengthAdjust="spacingAndGlyphs" fill="#111">TAS</text>
<path d="M354.20 284.25H352.60V290.75H354.20M364.30 284.25H365.90V290.75H364.30" stroke="#111" stroke-width="1.1" fill="none"/>
<circle cx="356.40" cy="286.05" r="1.3" fill="#111"/>
<text x="357.74" y="290.05" font-size="8.2" font-weight="bold" textLength="6.39" lengthAdjust="spacingAndGlyphs" fill="#111" stroke="#111" stroke-width="0.15">C</text>
<text transform="translate(284.30 231.05) rotate(-90)" x="-0.54" y="0" font-size="8.43" font-weight="bold" textLength="21.25" lengthAdjust="spacingAndGlyphs" fill="#111">P99.9</text>
<path d="M277.80 194.10H285.40M278.25 193.65V196.00M284.95 193.65V196.00M277.80 204.40H285.40M278.25 204.85V202.50M284.95 204.85V202.50" stroke="#111" stroke-width="0.95" fill="none"/>
<path d="M279.10 197.60L283.60 201.70" stroke="#111" stroke-width="1.45" stroke-linecap="round" fill="none"/>
<circle cx="282.70" cy="198.10" r="1.0" fill="#111"/><circle cx="279.60" cy="201.00" r="1.0" fill="#111"/>
<text x="328.17" y="177.85" font-size="7.27" textLength="19.53" lengthAdjust="spacingAndGlyphs" fill="#111" stroke="#111" stroke-width="0.22">HAPPI</text>
<text x="351.93" y="177.95" font-size="7.45" textLength="24.75" lengthAdjust="spacingAndGlyphs" fill="#111" stroke="#111" stroke-width="0.22">r=0.58</text>
<circle cx="377.4" cy="173.85" r="0.8" fill="#111"/>
<text x="201.60" y="8.10" font-size="11.63" font-weight="bold" textLength="21.20" lengthAdjust="spacingAndGlyphs" fill="#000" stroke="#000" stroke-width="0.25">SAS</text>
<text x="201.51" y="161.00" font-size="11.48" font-weight="bold" textLength="21.09" lengthAdjust="spacingAndGlyphs" fill="#000" stroke="#000" stroke-width="0.25">EAS</text>
</svg></body></html>
